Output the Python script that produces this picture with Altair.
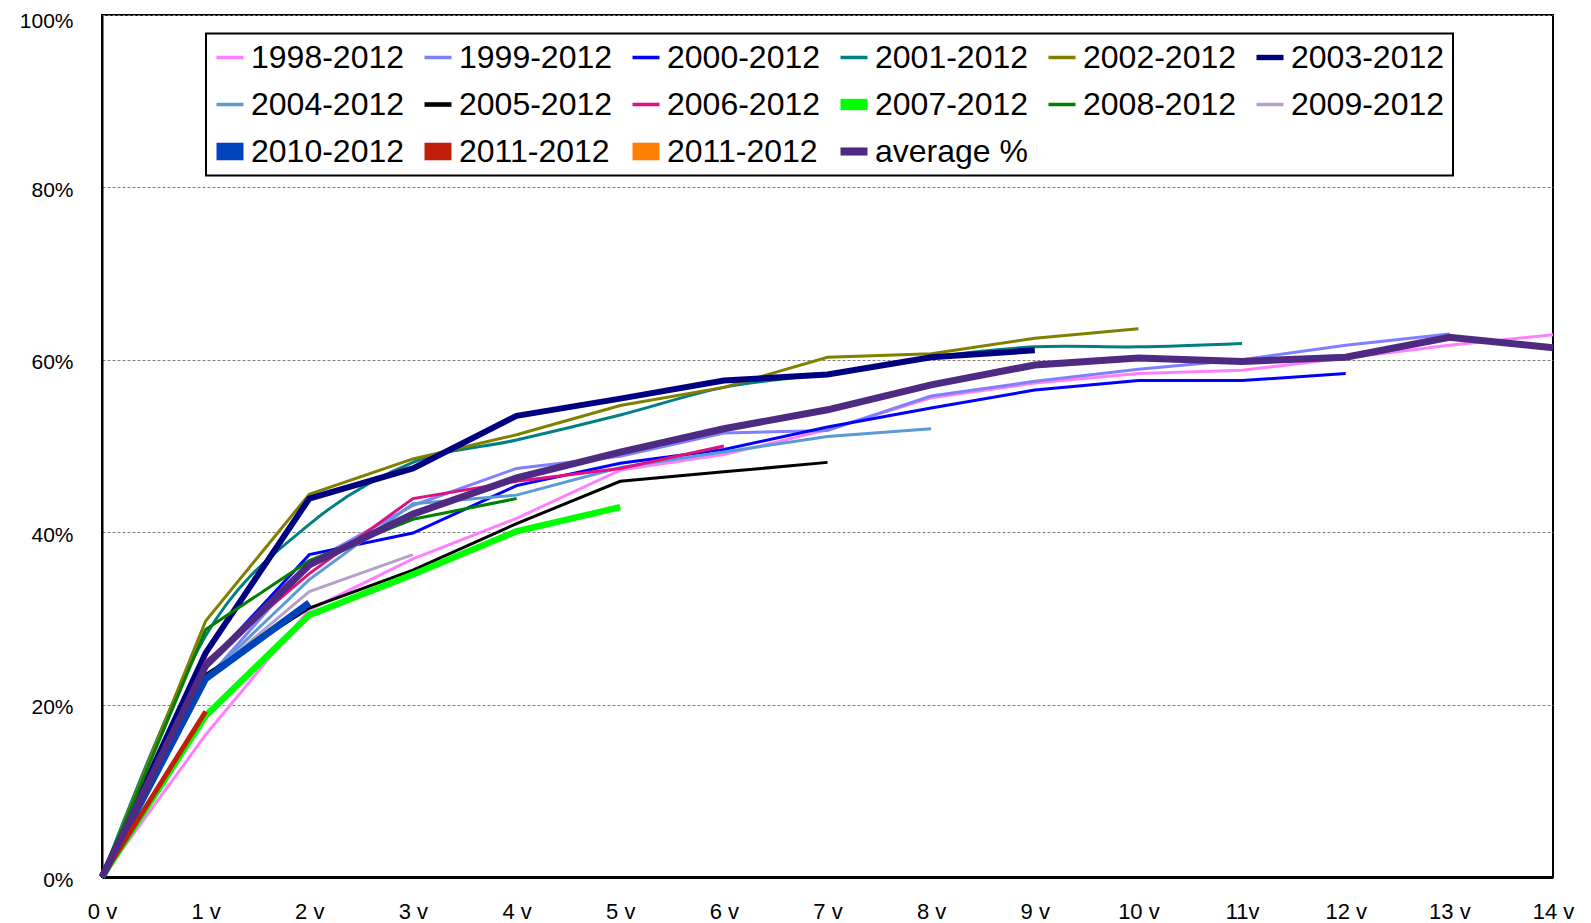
import altair as alt
import pandas as pd

series_names = ["1998-2012", "1999-2012", "2000-2012", "2001-2012", "2002-2012", "2003-2012",
                "2004-2012", "2005-2012", "2006-2012", "2007-2012", "2008-2012", "2009-2012",
                "2010-2012", "2011-2012", "2011-2012 ", "average %"]

x_labels = ["0 v", "1 v", "2 v", "3 v", "4 v", "5 v", "6 v", "7 v", "8 v", "9 v",
            "10 v", "11v", "12 v", "13 v", "14 v"]

s1998 = [0, 16.5, 31.0, 36.9, 41.6, 47.2, 49.0, 51.9, 55.6, 57.3, 58.4, 58.8, 60.2, 61.7, 62.9]
s1999 = [0, 22.8, 36.4, 43.1, 47.4, 48.8, 51.5, 51.8, 55.8, 57.5, 58.9, 60.0, 61.7, 63.0]
s2000 = [0, 24.4, 37.4, 39.9, 45.4, 48.0, 49.6, 52.2, 54.4, 56.5, 57.6, 57.6, 58.4]
s2001 = [0, 28.0, 40.9, 48.1, 50.7, 53.6, 56.8, 58.4, 60.3, 61.5, 61.5, 61.9]
s2002 = [0, 29.7, 44.4, 48.5, 51.3, 54.7, 56.8, 60.3, 60.7, 62.5, 63.6]
s2003 = [0, 26.0, 43.9, 47.4, 53.5, 55.5, 57.6, 58.3, 60.3, 61.1]
s2004 = [0, 23.0, 34.5, 43.3, 44.3, 47.5, 49.3, 51.1, 52.0]
s2005 = [0, 23.5, 31.2, 35.6, 41.0, 45.9, 47.0, 48.1]
s2006 = [0, 25.0, 35.2, 43.9, 45.9, 47.4, 50.0]
s2007 = [0, 18.7, 30.4, 35.1, 40.1, 42.9]
s2008 = [0, 28.7, 36.7, 41.5, 43.9]
s2009 = [0, 23.0, 33.1, 37.4]
s2010 = [0, 23.0, 31.8]
s2011 = [0, 19.2]
s2011b = []
s_avg = [0, 24.5, 36.2, 42.1, 46.3, 49.3, 52.0, 54.2, 57.1, 59.4, 60.2, 59.8, 60.3, 62.6, 61.4]

all_series = [s1998, s1999, s2000, s2001, s2002, s2003, s2004, s2005, s2006, s2007,
              s2008, s2009, s2010, s2011, s2011b, s_avg]

colors = ["#FF80FF", "#8080FF", "#0000FF", "#008080", "#808000", "#000080",
          "#5B9BD5", "#000000", "#E0107F", "#00FF00", "#008000", "#B3A2C7",
          "#0044BB", "#C0200A", "#FF8000", "#4F2A82"]
widths = [3, 3, 3, 3, 3, 6, 3, 3, 3, 6.5, 3, 3, 7, 5, 5, 7]

line_sym = "M-1,-0.13H1V0.13H-1Z"
shapes = [line_sym, line_sym, line_sym, line_sym, line_sym, "M-1,-0.2H1V0.2H-1Z",
          line_sym, "M-1,-0.17H1V0.17H-1Z", line_sym, "M-1,-0.42H1V0.42H-1Z", line_sym, line_sym,
          "M-1,-0.65H1V0.65H-1Z", "M-1,-0.65H1V0.65H-1Z", "M-1,-0.65H1V0.65H-1Z",
          "M-1,-0.3H1V0.3H-1Z"]

rows = []
for name, vals in zip(series_names, all_series):
    for i, v in enumerate(vals):
        rows.append({"series": name, "year": i, "value": v})
df = pd.DataFrame(rows)

label_expr = "[" + ",".join("'" + s + "'" for s in x_labels) + "][datum.value]"

x_enc = alt.X("year:Q", scale=alt.Scale(domain=[0, 14], nice=False),
              axis=alt.Axis(values=list(range(15)), labelExpr=label_expr, title=None,
                            ticks=False, grid=False, labelFontSize=22, labelFont="Liberation Sans",
                            labelColor="black", labelPadding=24, domainColor="black",
                            domainWidth=3, labelFlush=False, labelOverlap=False))
y_enc = alt.Y("value:Q", scale=alt.Scale(domain=[0, 100], nice=False),
              axis=alt.Axis(values=[0, 20, 40, 60, 80, 100], labelExpr="datum.value + '%'",
                            title=None, ticks=False, grid=True, gridColor="#808080",
                            gridDash=[3, 2], gridWidth=1, labelFontSize=21,
                            labelFont="Liberation Sans", labelColor="black", labelPadding=29,
                            labelOffset={"condition": {"test": "datum.value == 100", "value": 6},
                                         "value": 3},
                            domainColor="black", domainWidth=2, labelFlush=False))

legend = alt.Legend(orient="none", legendX=104, legendY=18.5, columns=6, title=None,
                    direction="horizontal",
                    labelFontSize=32, labelFont="Liberation Sans", labelColor="black",
                    symbolSize=729, symbolStrokeWidth=0, columnPadding=17, rowPadding=15,
                    padding=8, strokeColor="black", fillColor="white", labelLimit=400,
                    labelOffset=5)

base = alt.Chart(df)


def line_layer(filt, interp):
    return base.transform_filter(filt).mark_line(
        interpolate=interp, strokeCap="butt").encode(
        x=x_enc, y=y_enc,
        color=alt.Color("series:N", scale=alt.Scale(domain=series_names, range=colors),
                        legend=None),
        strokeWidth=alt.StrokeWidth("series:N",
                                    scale=alt.Scale(type="ordinal", domain=series_names,
                                                    range=widths),
                                    legend=None),
    )


teal = line_layer(alt.datum.series == "2001-2012", "cardinal")
lines = line_layer(alt.datum.series != "2001-2012", "linear")

points = base.transform_filter("false").mark_point(filled=True, opacity=1).encode(
    x=x_enc, y=y_enc,
    color=alt.Color("series:N", scale=alt.Scale(domain=series_names, range=colors),
                    legend=legend),
    shape=alt.Shape("series:N", scale=alt.Scale(domain=series_names, range=shapes),
                    legend=legend),
)

chart = alt.layer(teal, lines, points).resolve_scale(
    color="independent", shape="independent", strokeWidth="independent"
).resolve_legend(
    color="independent", shape="independent", strokeWidth="independent"
).properties(
    width=1451, height=862,
    autosize=alt.AutoSizeParams(type="none"),
    padding={"left": 94, "top": 7, "right": 30, "bottom": 46},
).configure_view(stroke="black", strokeWidth=2).configure_legend(strokeWidth=2)

chart.save("out.html", embed_options={"renderer": "svg", "actions": False})
